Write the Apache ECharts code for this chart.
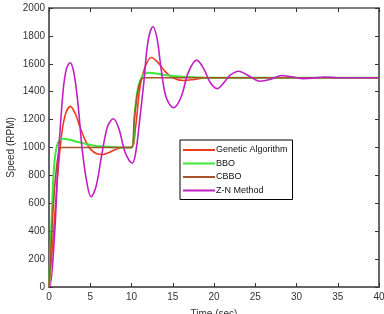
<!DOCTYPE html>
<html>
<head>
<meta charset="utf-8">
<script src="https://cdn.jsdelivr.net/npm/echarts@6/dist/echarts.min.js"></script>
<style>
  html, body { margin: 0; padding: 0; background: #fff; }
  #container { width: 384px; height: 314px; }
</style>
</head>
<body>
<div id="container"></div>
<script>
// speed response data (time in sec, speed in RPM)
var gaTime = [0, 0.5, 1.0, 1.5, 2.0, 2.6, 3.2, 3.8, 4.4, 5.0, 5.8, 6.5, 7.3, 8.2, 9.0, 10.0, 10.5, 11.0, 11.6, 12.4, 13.2, 14.0, 15.0, 16.3, 17.6, 19.0, 22, 40];
var gaSpeed = [0, 350, 760, 1080, 1240, 1295, 1240, 1140, 1050, 990, 955, 950, 965, 990, 1000, 1000, 1150, 1420, 1570, 1645, 1610, 1550, 1500, 1480, 1488, 1500, 1500, 1500];

var bboTime = [0, 0.3, 0.6, 1.0, 1.6, 2.5, 3.5, 4.5, 5.5, 7.0, 8.5, 10.0, 10.4, 10.8, 11.4, 12.0, 13.0, 14.0, 15.5, 17.0, 19.0, 40];
var bboSpeed = [0, 450, 850, 1020, 1062, 1055, 1040, 1025, 1012, 1005, 1000, 1000, 1250, 1430, 1520, 1535, 1530, 1520, 1510, 1505, 1500, 1500];

var cbboTime = [0, 0.3, 0.6, 1.0, 1.3, 1.6, 10.0, 10.3, 10.7, 11.1, 11.4, 40];
var cbboSpeed = [0, 350, 650, 900, 990, 1000, 1000, 1180, 1380, 1480, 1500, 1500];

var znTime = [0, 0.1, 0.7, 1.1, 1.7, 2.1, 2.55, 3.0, 3.5, 4.0, 4.5, 5.1, 5.7, 6.4, 7.1, 7.8, 8.5, 9.2, 10.1, 10.5, 11.0, 11.5, 12.0, 12.6, 13.1, 13.6, 14.2, 15.1, 16.0, 16.9, 17.9, 18.8, 19.5, 20.4, 21.2, 22.0, 23.0, 24.2, 25.6, 26.9, 28.2, 29.6, 30.8, 32.0, 33.4, 35, 40];
var znSpeed = [0, 0, 400, 900, 1400, 1560, 1607, 1540, 1320, 1000, 780, 647, 720, 950, 1150, 1206, 1130, 970, 888, 960, 1200, 1470, 1760, 1866, 1780, 1560, 1360, 1285, 1360, 1540, 1626, 1560, 1470, 1422, 1465, 1520, 1547, 1515, 1475, 1490, 1516, 1505, 1494, 1497, 1505, 1500, 1500];

var xTicks = [0, 5, 10, 15, 20, 25, 30, 35, 40];
var yTicks = [0, 200, 400, 600, 800, 1000, 1200, 1400, 1600, 1800, 2000];

function pairs(t, v) {
    var res = [];
    for (var i = 0; i < t.length; i++) {
        res.push([t[i], v[i]]);
    }
    return res;
}

var myChart = echarts.init(document.getElementById("container"), null, { renderer: 'canvas' });

var axisFont = { fontFamily: 'Liberation Sans, Arial, sans-serif', fontSize: 10, color: '#333' };

var option = {
    animation: false,
    backgroundColor: '#fff',
    grid: { left: 49, right: 5, top: 8, bottom: 27, outerBoundsMode: 'none', containLabel: false },
    legend: {
        orient: 'vertical',
        left: 180,
        top: 140,
        width: 115,
        backgroundColor: '#fff',
        borderColor: '#000',
        borderWidth: 1,
        padding: [4, 5, 3, 3],
        icon: 'rect',
        itemWidth: 32,
        itemHeight: 2,
        itemGap: 1.5,
        textStyle: { fontFamily: 'Liberation Sans, Arial, sans-serif', fontSize: 9, color: '#111', lineHeight: 12, padding: [0, 0, 0, -4] },
        data: ['Genetic Algorithm', 'BBO', 'CBBO', 'Z-N Method']
    },
    xAxis: [{
        type: 'value',
        min: 0, max: 40, interval: 5,
        name: 'Time (sec)',
        nameLocation: 'middle',
        nameGap: 22,
        nameMoveOverlap: false,
        nameTextStyle: axisFont,
        axisLine: { lineStyle: { color: '#666', width: 2 } },
        axisTick: { inside: true, length: 4, lineStyle: { color: '#333' } },
        axisLabel: Object.assign({ margin: 5, formatter: function (v) { return String(v); } }, axisFont),
        splitLine: { show: false }
    }, {
        type: 'value',
        position: 'top',
        min: 0, max: 40, interval: 5,
        axisLine: { show: true, onZero: false, lineStyle: { color: '#555', width: 1.5 } },
        axisTick: { inside: true, length: 4, lineStyle: { color: '#333' } },
        axisLabel: { show: false },
        splitLine: { show: false }
    }],
    yAxis: [{
        type: 'value',
        min: 0, max: 2000, interval: 200,
        name: 'Speed (RPM)',
        nameLocation: 'middle',
        nameGap: 33,
        nameMoveOverlap: false,
        nameTextStyle: axisFont,
        axisLine: { show: true, lineStyle: { color: '#666', width: 2 } },
        axisTick: { show: true, inside: true, length: 4, lineStyle: { color: '#333' } },
        axisLabel: Object.assign({ margin: 4, formatter: function (v) { return String(v); } }, axisFont),
        splitLine: { show: false }
    }, {
        type: 'value',
        position: 'right',
        min: 0, max: 2000, interval: 200,
        axisLine: { show: true, onZero: false, lineStyle: { color: '#333', width: 1.5 } },
        axisTick: { show: true, inside: true, length: 4, lineStyle: { color: '#333' } },
        axisLabel: { show: false },
        splitLine: { show: false }
    }],
    series: [{
        name: 'Genetic Algorithm',
        type: 'line',
        smooth: 0.35,
        showSymbol: false,
        color: '#f23a1c',
        lineStyle: { width: 1.6 },
        data: pairs(gaTime, gaSpeed)
    }, {
        name: 'BBO',
        type: 'line',
        smooth: 0.35,
        showSymbol: false,
        color: '#3ce83c',
        lineStyle: { width: 2 },
        data: pairs(bboTime, bboSpeed)
    }, {
        name: 'CBBO',
        type: 'line',
        smooth: 0.2,
        showSymbol: false,
        color: '#a8522c',
        lineStyle: { width: 1.6 },
        data: pairs(cbboTime, cbboSpeed)
    }, {
        name: 'Z-N Method',
        type: 'line',
        smooth: 0.35,
        showSymbol: false,
        color: '#c21fc2',
        lineStyle: { width: 1.6 },
        data: pairs(znTime, znSpeed)
    }]
};

myChart.setOption(option);
</script>
</body>
</html>
